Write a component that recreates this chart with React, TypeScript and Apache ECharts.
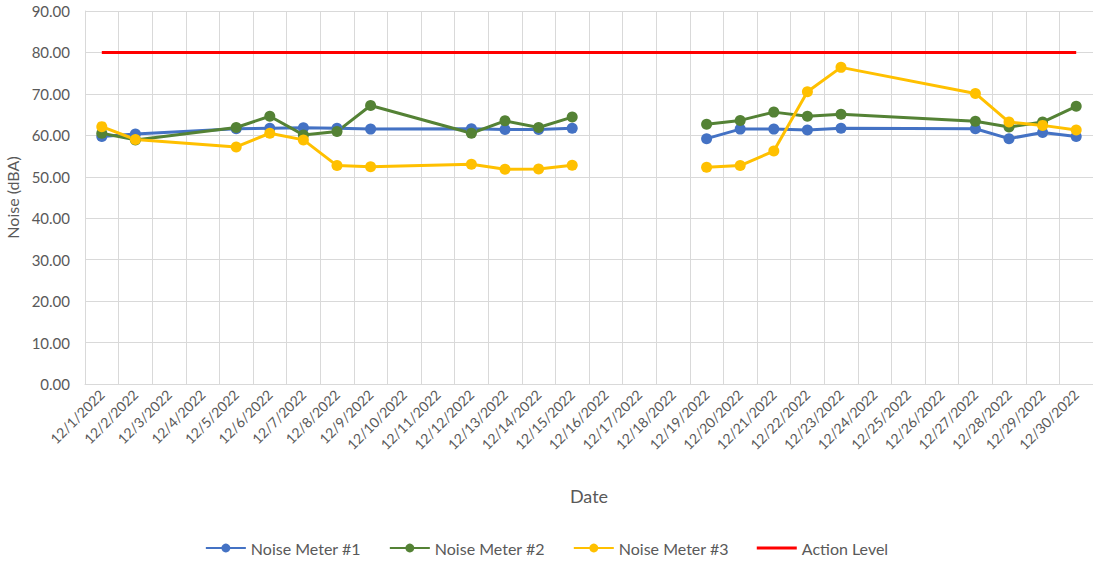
import React, { useEffect, useRef } from "react";
import * as echarts from "echarts";

const dates = [
  "12/1/2022", "12/2/2022", "12/3/2022", "12/4/2022", "12/5/2022", "12/6/2022",
  "12/7/2022", "12/8/2022", "12/9/2022", "12/10/2022", "12/11/2022", "12/12/2022",
  "12/13/2022", "12/14/2022", "12/15/2022", "12/16/2022", "12/17/2022", "12/18/2022",
  "12/19/2022", "12/20/2022", "12/21/2022", "12/22/2022", "12/23/2022", "12/24/2022",
  "12/25/2022", "12/26/2022", "12/27/2022", "12/28/2022", "12/29/2022", "12/30/2022",
];

// null = no reading that day (line connects over it)
const meter1 = [
  59.7, 60.3, null, null, 61.6, 61.7, 61.8, 61.7, 61.5, null, null, 61.6,
  61.4, 61.4, 61.7, null, null, null, 59.2, 61.5, 61.5, 61.3, 61.7, null,
  null, null, 61.6, 59.2, 60.7, 59.7,
];
const meter2 = [
  60.5, 58.9, null, null, 61.9, 64.6, 60.1, 60.9, 67.2, null, null, 60.5,
  63.5, 61.9, 64.4, null, null, null, 62.7, 63.6, 65.6, 64.6, 65.1, null,
  null, null, 63.4, 62.0, 63.2, 67.0,
];
const meter3 = [
  62.1, 59.0, null, null, 57.2, 60.5, 58.9, 52.7, 52.4, null, null, 53.0,
  51.8, 51.9, 52.8, null, null, null, 52.3, 52.7, 56.2, 70.5, 76.4, null,
  null, null, 70.1, 63.2, 62.4, 61.3,
];
const actionLevel = dates.map(() => 80);

// dates where the lines break
const gapDates = ["12/16/2022"];

function build(values: (number | null)[]) {
  const out: any[] = [];
  values.forEach((v, i) => {
    if (v !== null) out.push([dates[i], v]);
    else if (gapDates.includes(dates[i])) out.push([dates[i], "-"]);
  });
  return out;
}

const FONT = "Lato, 'Open Sans', sans-serif";

export default function App() {
  const ref = useRef<HTMLDivElement>(null);
  useEffect(() => {
    const chart = echarts.init(ref.current!, undefined, { renderer: "svg" });
    const lineSeries = (name: string, values: (number | null)[], color: string) => ({
      name,
      type: "line",
      data: build(values),
      connectNulls: false,
      symbol: "circle",
      symbolSize: 11,
      itemStyle: { color },
      lineStyle: { color, width: 3 },
    });
    chart.setOption({
      animation: false,
      textStyle: { fontFamily: FONT },
      grid: {
        left: 85,
        right: 0,
        top: 11,
        bottom: 181,
        containLabel: false,
        outerBoundsMode: "none",
      },
      legend: {
        bottom: 4,
        left: "center",
        itemWidth: 40,
        itemHeight: 11,
        itemGap: 28,
        textStyle: { color: "#595959", fontSize: 16, fontFamily: FONT },
        data: [
          "Noise Meter #1",
          "Noise Meter #2",
          "Noise Meter #3",
          { name: "Action Level", icon: "path://M0,0 L40,0 L40,3 L0,3 Z" },
        ],
      },
      xAxis: {
        type: "category",
        data: dates,
        boundaryGap: true,
        name: "Date",
        nameLocation: "middle",
        nameGap: 103,
        nameTextStyle: { color: "#595959", fontSize: 18, fontFamily: FONT },
        axisLine: { show: true, lineStyle: { color: "#d9d9d9", width: 1 } },
        axisTick: { show: false },
        axisLabel: {
          interval: 0,
          rotate: 45,
          color: "#595959",
          fontSize: 14,
          margin: 8,
          fontFamily: FONT,
        },
        splitLine: { show: true, interval: 0, lineStyle: { color: "#d9d9d9", width: 1 } },
      },
      yAxis: {
        type: "value",
        min: 0,
        max: 90,
        interval: 10,
        name: "Noise (dBA)",
        nameLocation: "middle",
        nameGap: 65,
        nameRotate: 90,
        nameTextStyle: { color: "#595959", fontSize: 16, fontFamily: FONT },
        axisLine: { show: true, lineStyle: { color: "#d9d9d9" } },
        axisTick: { show: false },
        axisLabel: {
          color: "#595959",
          fontSize: 15,
          margin: 15,
          fontFamily: FONT,
          formatter: (v: number) => v.toFixed(2),
        },
        splitLine: { show: true, lineStyle: { color: "#d9d9d9", width: 1 } },
      },
      series: [
        lineSeries("Noise Meter #1", meter1, "#4472C4"),
        lineSeries("Noise Meter #2", meter2, "#548235"),
        lineSeries("Noise Meter #3", meter3, "#FFC000"),
        {
          name: "Action Level",
          type: "line",
          data: actionLevel,
          symbol: "none",
          itemStyle: { color: "#FF0000" },
          lineStyle: { color: "#FF0000", width: 3 },
        },
      ],
    });
    return () => chart.dispose();
  }, []);
  return (
    <div
      ref={ref}
      style={{ position: "fixed", left: 0, top: 0, width: 1093, height: 565, background: "#fff" }}
    />
  );
}
